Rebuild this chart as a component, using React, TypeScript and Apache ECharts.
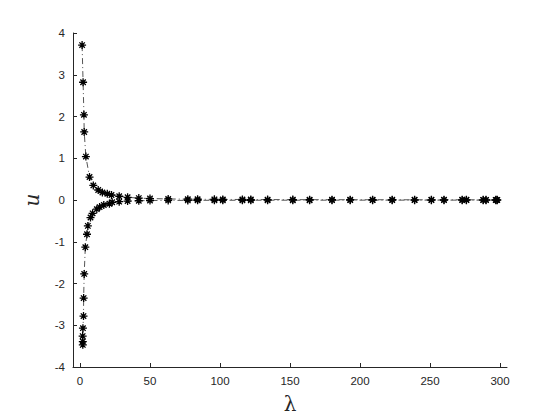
import React, { useEffect, useRef } from "react";
import * as echarts from "echarts";

const upperLambda = [1.5, 2.2, 2.8, 3.0, 4.2, 6.8, 9.5, 13, 16, 19.5, 22.5, 28, 34, 42, 50, 63, 77, 84, 96, 102, 116, 122, 134, 152, 164, 180, 193, 209, 223, 239, 251, 260, 273, 276, 288, 290, 297, 298];
const upperU = [3.71, 2.82, 2.04, 1.63, 1.04, 0.55, 0.35, 0.24, 0.18, 0.15, 0.12, 0.09, 0.065, 0.045, 0.035, 0.025, 0.02, 0.018, 0.015, 0.014, 0.012, 0.011, 0.01, 0.009, 0.008, 0.007, 0.007, 0.006, 0.006, 0.005, 0.005, 0.005, 0.005, 0.005, 0.004, 0.004, 0.004, 0.004];

const lowerLambda = [2.0, 2.0, 1.9, 2.1, 2.5, 2.6, 3.0, 3.8, 5.0, 5.6, 7.5, 9.0, 12, 14, 17, 21, 23, 28, 34, 42, 50, 63, 77, 84, 96, 102, 116, 122, 134, 152, 164, 180, 193, 209, 223, 239, 251, 260, 273, 276, 288, 290, 297, 298];
const lowerU = [-3.47, -3.39, -3.26, -3.07, -2.78, -2.35, -1.77, -1.13, -0.82, -0.62, -0.42, -0.32, -0.22, -0.17, -0.12, -0.09, -0.055, -0.04, -0.025, -0.018, -0.012, -0.01, -0.009, -0.008, -0.007, -0.007, -0.006, -0.006, -0.005, -0.005, -0.005, -0.004, -0.004, -0.004, -0.004, -0.003, -0.003, -0.003, -0.003, -0.003, -0.003, -0.003, -0.003, -0.003];

const xTicks = [0, 50, 100, 150, 200, 250, 300];

const star = "path://M5 0L5 10M0 5L10 5M1.6 1.6L8.4 8.4M8.4 1.6L1.6 8.4";

export default function App() {
  const ref = useRef<HTMLDivElement>(null);
  useEffect(() => {
    if (!ref.current) return;
    const chart = echarts.init(ref.current, null, { renderer: "svg" });
    const axisColor = "#262626";
    const mkSeries = (xs: number[], ys: number[]) => ({
      type: "line",
      data: xs.map((x, i) => [x, ys[i]]),
      symbol: star,
      symbolSize: 8,
      showSymbol: true,
      itemStyle: { color: "none", borderColor: "#000", borderWidth: 1.3 },
      lineStyle: { color: "#555", width: 1, type: [6, 3, 1, 3] },
      z: 3,
    });
    chart.setOption({
      animation: false,
      backgroundColor: "#fff",
      grid: { left: 73, right: 53, top: 33, bottom: 53 },
      xAxis: {
        type: "value",
        min: -5,
        max: 305,
        name: "λ",
        nameLocation: "middle",
        nameGap: 27,
        nameTextStyle: { fontFamily: "DejaVu Serif", fontSize: 20, color: axisColor },
        axisLine: { onZero: false, lineStyle: { color: axisColor, width: 1 } },
        axisTick: { inside: true, length: 4, customValues: xTicks, lineStyle: { color: axisColor } },
        axisLabel: { customValues: xTicks, color: axisColor, fontFamily: "Liberation Sans", fontSize: 11.5, margin: 8 },
        splitLine: { show: false },
      },
      yAxis: {
        type: "value",
        min: -4,
        max: 4,
        interval: 1,
        name: "u",
        nameLocation: "middle",
        nameGap: 31,
        nameRotate: 90,
        nameTextStyle: { fontFamily: "DejaVu Serif", fontStyle: "italic", fontSize: 20, color: axisColor },
        axisLine: { show: true, onZero: false, lineStyle: { color: axisColor, width: 1 } },
        axisTick: { show: true, inside: true, length: 4, lineStyle: { color: axisColor } },
        axisLabel: { color: axisColor, fontFamily: "Liberation Sans", fontSize: 11.5, margin: 8 },
        splitLine: { show: false },
      },
      series: [mkSeries(upperLambda, upperU), mkSeries(lowerLambda, lowerU)],
    });
    return () => chart.dispose();
  }, []);
  return <div ref={ref} style={{ width: 560, height: 420, position: "absolute", left: 0, top: 0 }} />;
}
